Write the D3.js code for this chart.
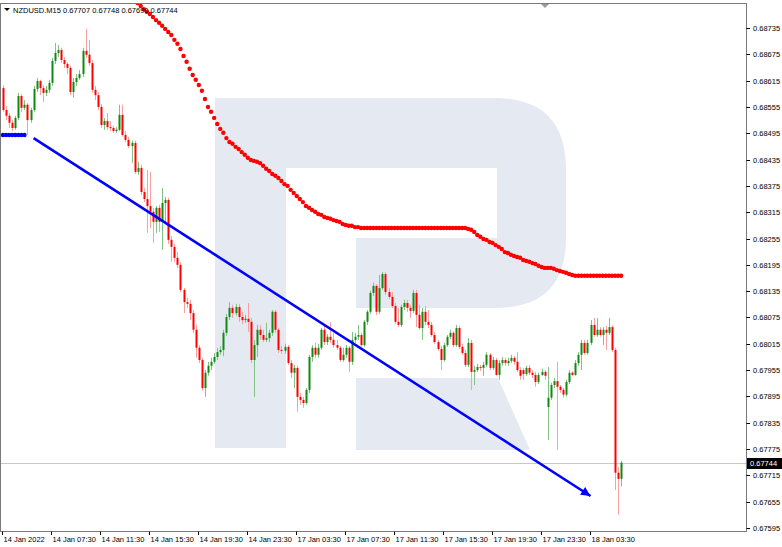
<!DOCTYPE html>
<html><head><meta charset="utf-8">
<script src="https://cdn.jsdelivr.net/npm/d3@7"></script>
<style>body{margin:0;background:#fff}svg{display:block}</style>
</head><body>
<svg id="c" width="782" height="547"></svg>
<script>
// ---------- DATA ----------
const symbol = "NZDUSD.M15";
const headerValues = ["0.67707", "0.67748", "0.67690", "0.67744"];
const lastPrice = 0.67744;

const openP = [0.68598,0.68548,0.68535,0.68519,0.68507,0.68530,0.68580,0.68553,0.68560,0.68525,
0.68548,0.68596,0.68614,0.68598,0.68587,0.68594,0.68610,0.68660,0.68678,0.68685,
0.68662,0.68653,0.68644,0.68589,0.68612,0.68621,0.68630,0.68683,0.68674,0.68655,
0.68594,0.68582,0.68555,0.68514,0.68523,0.68509,0.68507,0.68500,0.68503,0.68537,
0.68491,0.68480,0.68466,0.68473,0.68407,0.68416,0.68361,0.68345,0.68329,0.68316,
0.68293,0.68325,0.68293,0.68336,0.68343,0.68252,0.68236,0.68211,0.68195,0.68138,
0.68110,0.68106,0.68085,0.68047,0.68006,0.67978,0.67914,0.67949,0.67965,0.67974,
0.67985,0.67996,0.68001,0.68040,0.68076,0.68097,0.68085,0.68099,0.68076,0.68069,
0.68072,0.68065,0.67978,0.68012,0.68047,0.68035,0.68024,0.68028,0.68040,0.68088,
0.68047,0.68001,0.67999,0.68008,0.67971,0.67949,0.67960,0.67894,0.67887,0.67880,
0.67910,0.67985,0.68006,0.67990,0.68006,0.68047,0.68019,0.68031,0.68024,0.68012,
0.68006,0.67978,0.67990,0.68006,0.67974,0.68024,0.68031,0.68035,0.68012,0.68065,
0.68088,0.68131,0.68147,0.68088,0.68142,0.68174,0.68133,0.68122,0.68101,0.68065,
0.68058,0.68099,0.68108,0.68097,0.68090,0.68131,0.68081,0.68051,0.68088,0.68065,
0.68058,0.68035,0.68019,0.68003,0.67978,0.68012,0.68031,0.68040,0.68012,0.68051,
0.68008,0.67994,0.67967,0.68017,0.67951,0.67955,0.67962,0.67960,0.67967,0.67990,
0.67960,0.67978,0.67944,0.67971,0.67978,0.67971,0.67976,0.67983,0.67974,0.67955,
0.67955,0.67946,0.67960,0.67949,0.67944,0.67928,0.67944,0.67951,0.67871,0.67892,
0.67921,0.67930,0.67917,0.67910,0.67899,0.67928,0.67949,0.67944,0.67971,0.67990,
0.68017,0.67994,0.68017,0.68058,0.68035,0.68047,0.68035,0.68047,0.68040,0.68053,
0.68001,0.67721,0.67707];

const highP = [0.68605,0.68557,0.68541,0.68525,0.68535,0.68587,0.68585,0.68571,0.68564,0.68553,
0.68603,0.68621,0.68617,0.68605,0.68603,0.68617,0.68667,0.68701,0.68696,0.68690,
0.68669,0.68658,0.68649,0.68621,0.68630,0.68639,0.68690,0.68733,0.68708,0.68662,
0.68603,0.68589,0.68562,0.68530,0.68541,0.68523,0.68512,0.68509,0.68560,0.68560,
0.68500,0.68487,0.68478,0.68478,0.68430,0.68423,0.68370,0.68411,0.68407,0.68325,
0.68329,0.68332,0.68370,0.68350,0.68348,0.68261,0.68243,0.68224,0.68202,0.68142,
0.68120,0.68115,0.68092,0.68058,0.68012,0.67983,0.67955,0.67974,0.67983,0.67994,
0.68006,0.68010,0.68047,0.68083,0.68110,0.68104,0.68106,0.68106,0.68088,0.68081,
0.68108,0.68074,0.68024,0.68058,0.68058,0.68047,0.68063,0.68047,0.68092,0.68092,
0.68051,0.68010,0.68015,0.68012,0.67978,0.67967,0.67965,0.67903,0.67894,0.67914,
0.67990,0.68012,0.68017,0.68015,0.68051,0.68058,0.68037,0.68065,0.68040,0.68024,
0.68010,0.68006,0.68012,0.68010,0.68042,0.68040,0.68058,0.68040,0.68069,0.68092,
0.68136,0.68154,0.68151,0.68172,0.68179,0.68179,0.68142,0.68133,0.68108,0.68097,
0.68104,0.68115,0.68115,0.68104,0.68138,0.68138,0.68104,0.68097,0.68101,0.68092,
0.68065,0.68042,0.68024,0.68010,0.68017,0.68035,0.68047,0.68044,0.68058,0.68056,
0.68015,0.68001,0.68028,0.68024,0.67965,0.67969,0.67967,0.67974,0.67996,0.67994,
0.67985,0.67983,0.67978,0.67985,0.67983,0.67983,0.67990,0.67987,0.67996,0.67962,
0.67960,0.67965,0.67967,0.67955,0.67951,0.67949,0.67958,0.67955,0.67962,0.67926,
0.67937,0.67974,0.67921,0.67914,0.67933,0.67955,0.67953,0.67978,0.67996,0.68024,
0.68024,0.68024,0.68069,0.68074,0.68074,0.68053,0.68053,0.68056,0.68074,0.68058,
0.68006,0.67734,0.67748];

const lowP = [0.68544,0.68525,0.68507,0.68500,0.68503,0.68525,0.68544,0.68548,0.68491,0.68519,
0.68544,0.68589,0.68582,0.68566,0.68580,0.68587,0.68603,0.68653,0.68669,0.68655,
0.68644,0.68630,0.68582,0.68576,0.68603,0.68617,0.68623,0.68667,0.68649,0.68587,
0.68571,0.68548,0.68507,0.68503,0.68503,0.68500,0.68496,0.68496,0.68500,0.68487,
0.68475,0.68462,0.68427,0.68402,0.68400,0.68354,0.68338,0.68268,0.68279,0.68245,
0.68268,0.68270,0.68229,0.68293,0.68243,0.68202,0.68202,0.68188,0.68133,0.68085,
0.68097,0.68069,0.68040,0.67983,0.67971,0.67908,0.67894,0.67942,0.67955,0.67969,
0.67978,0.67990,0.67987,0.68033,0.68069,0.68074,0.68079,0.68065,0.68060,0.68063,
0.68042,0.67971,0.67894,0.67985,0.68024,0.68019,0.68019,0.68019,0.68033,0.68040,
0.67994,0.67992,0.67992,0.67967,0.67937,0.67914,0.67860,0.67876,0.67869,0.67876,
0.67903,0.67974,0.67983,0.67983,0.68001,0.68012,0.68012,0.68017,0.68006,0.68001,
0.67974,0.67974,0.67983,0.67951,0.67967,0.68017,0.68024,0.68008,0.68008,0.68058,
0.68083,0.68124,0.68081,0.68083,0.68138,0.68126,0.68117,0.68097,0.68060,0.68053,
0.68053,0.68092,0.68088,0.68074,0.68085,0.68053,0.68047,0.68024,0.68058,0.68051,
0.68031,0.68015,0.67999,0.67955,0.67974,0.68008,0.68026,0.68008,0.68008,0.68003,
0.67990,0.67962,0.67962,0.67910,0.67921,0.67951,0.67953,0.67942,0.67962,0.67955,
0.67955,0.67942,0.67933,0.67965,0.67965,0.67965,0.67971,0.67967,0.67951,0.67933,
0.67933,0.67942,0.67944,0.67937,0.67917,0.67923,0.67942,0.67933,0.67796,0.67887,
0.67914,0.67773,0.67903,0.67892,0.67894,0.67923,0.67942,0.67942,0.67965,0.67955,
0.67990,0.67990,0.68012,0.68031,0.68031,0.68031,0.68012,0.68001,0.68035,0.67996,
0.67682,0.67625,0.67690];

const closeP = [0.68548,0.68535,0.68519,0.68507,0.68530,0.68580,0.68553,0.68560,0.68525,0.68548,
0.68596,0.68614,0.68598,0.68587,0.68594,0.68610,0.68660,0.68678,0.68685,0.68662,
0.68653,0.68644,0.68589,0.68612,0.68621,0.68630,0.68683,0.68674,0.68655,0.68594,
0.68582,0.68555,0.68514,0.68523,0.68509,0.68507,0.68500,0.68503,0.68537,0.68491,
0.68480,0.68466,0.68473,0.68407,0.68416,0.68361,0.68345,0.68329,0.68316,0.68293,
0.68325,0.68293,0.68336,0.68343,0.68252,0.68236,0.68211,0.68195,0.68138,0.68110,
0.68106,0.68085,0.68047,0.68006,0.67978,0.67914,0.67949,0.67965,0.67974,0.67985,
0.67996,0.68001,0.68040,0.68076,0.68097,0.68085,0.68099,0.68076,0.68069,0.68072,
0.68065,0.67978,0.68012,0.68047,0.68035,0.68024,0.68028,0.68040,0.68088,0.68047,
0.68001,0.67999,0.68008,0.67971,0.67949,0.67960,0.67894,0.67887,0.67880,0.67910,
0.67985,0.68006,0.67990,0.68006,0.68047,0.68019,0.68031,0.68024,0.68012,0.68006,
0.67978,0.67990,0.68006,0.67974,0.68024,0.68031,0.68035,0.68012,0.68065,0.68088,
0.68131,0.68147,0.68088,0.68142,0.68174,0.68133,0.68122,0.68101,0.68065,0.68058,
0.68099,0.68108,0.68097,0.68090,0.68131,0.68081,0.68051,0.68088,0.68065,0.68058,
0.68035,0.68019,0.68003,0.67978,0.68012,0.68031,0.68040,0.68012,0.68051,0.68008,
0.67994,0.67967,0.68017,0.67951,0.67955,0.67962,0.67960,0.67967,0.67990,0.67960,
0.67978,0.67944,0.67971,0.67978,0.67971,0.67976,0.67983,0.67974,0.67955,0.67942,
0.67946,0.67960,0.67949,0.67944,0.67928,0.67944,0.67951,0.67942,0.67892,0.67921,
0.67930,0.67917,0.67910,0.67899,0.67928,0.67949,0.67944,0.67971,0.67990,0.68017,
0.67994,0.68017,0.68058,0.68035,0.68047,0.68035,0.68047,0.68040,0.68053,0.68001,
0.67721,0.67707,0.67744];

// red dotted moving average, starting at bar maRedStart
const maRedStart = 43;
const maRed = [0.68806,0.68792,0.68785,0.68778,0.68772,0.68767,0.68760,0.68753,0.68747,0.68740,
0.68733,0.68726,0.68719,0.68708,0.68699,0.68687,0.68671,0.68658,0.68642,0.68628,
0.68617,0.68605,0.68592,0.68573,0.68555,0.68544,0.68530,0.68516,0.68505,0.68496,
0.68484,0.68475,0.68471,0.68464,0.68459,0.68452,0.68446,0.68439,0.68434,0.68432,
0.68430,0.68427,0.68421,0.68414,0.68409,0.68402,0.68398,0.68393,0.68386,0.68379,
0.68375,0.68366,0.68359,0.68352,0.68345,0.68338,0.68329,0.68325,0.68320,0.68316,
0.68311,0.68309,0.68304,0.68302,0.68300,0.68297,0.68295,0.68293,0.68288,0.68286,
0.68284,0.68284,0.68281,0.68281,
0.68279,0.68279,0.68279,0.68279,0.68279,0.68279,0.68279,0.68279,0.68279,0.68279,
0.68279,0.68279,0.68279,0.68279,0.68279,0.68279,0.68279,0.68279,0.68279,0.68279,
0.68279,0.68279,0.68279,0.68279,0.68279,0.68279,0.68279,0.68279,0.68279,0.68279,
0.68279,0.68279,0.68279,0.68279,0.68279,
0.68277,0.68275,0.68270,0.68263,0.68259,0.68254,0.68252,0.68247,0.68245,0.68240,
0.68236,0.68231,0.68224,0.68222,0.68218,0.68215,0.68213,0.68211,0.68206,0.68204,
0.68202,0.68199,0.68197,0.68193,0.68190,0.68188,0.68188,0.68188,0.68186,0.68183,
0.68181,0.68179,0.68177,0.68174,0.68172,
0.68170,0.68170,0.68170,0.68170,0.68170,0.68170,0.68170,0.68170,0.68170,0.68170,
0.68170,0.68170,0.68170,0.68170,0.68170,0.68170];

// blue dotted moving average (visible part, from bar 0)
const maBlue = [0.68491,0.68491,0.68491,0.68491,0.68491,0.68491,0.68491,0.68491];

// trend arrow (bar index, price)
const trendBars = [10, 192];
const trendPrices = [0.68484, 0.67668];

// axes
const xTickBars = [0,16,32,48,64,80,96,112,128,144,160,176,192];
const xTickLabels = ["14 Jan 2022","14 Jan 07:30","14 Jan 11:30","14 Jan 15:30","14 Jan 19:30",
"14 Jan 23:30","17 Jan 03:30","17 Jan 07:30","17 Jan 11:30","17 Jan 15:30","17 Jan 19:30",
"17 Jan 23:30","18 Jan 03:30"];
const yTickValues = [0.68735,0.68675,0.68615,0.68555,0.68495,0.68435,0.68375,0.68315,0.68255,
0.68195,0.68135,0.68075,0.68015,0.67955,0.67895,0.67835,0.67775,0.67715,0.67655,0.67595];

// ---------- DRAW ----------
const svg = d3.select("#c");
const W = 782, H = 547;
const plot = {l: 1, r: 746, t: 4, b: 531};
const n = closeP.length;
const x = d3.scaleLinear().domain([0, 192]).range([3, 590.5]);
const y = d3.scaleLinear().domain([0.67595, 0.68735]).range([528, 28]);
const font = "'Liberation Sans', Arial, sans-serif";

svg.append("rect").attr("width", W).attr("height", H).attr("fill", "#fff");

const defs = svg.append("defs");
defs.append("clipPath").attr("id", "clip").append("rect")
  .attr("x", plot.l).attr("y", plot.t).attr("width", plot.r - plot.l).attr("height", plot.b - plot.t);
defs.append("marker").attr("id", "arr").attr("viewBox", "0 0 10 10")
  .attr("refX", 10).attr("refY", 5).attr("markerWidth", 5).attr("markerHeight", 3.6)
  .attr("orient", "auto").attr("markerUnits", "strokeWidth")
  .append("path").attr("d", "M0,0 L10,5 L0,10 Z").attr("fill", "#0000ff");

const g = svg.append("g").attr("clip-path", "url(#clip)");

// watermark logo
const wm = g.append("g").attr("fill", "#e4e9f2");
wm.append("path").attr("d",
  "M215,98 H495 Q566,98 566,170 V238 Q566,308 495,308 H356 V448 H215 Z");
wm.append("path").attr("d", "M356,378 H498 L530,450 H356 Z");
g.append("rect").attr("x", 286).attr("y", 168).attr("width", 211).attr("height", 70).attr("fill", "#fff");
g.append("rect").attr("x", 286).attr("y", 238).attr("width", 70).attr("height", 212).attr("fill", "#fff");
g.append("rect").attr("x", 356).attr("y", 308).attr("width", 180).attr("height", 70).attr("fill", "#fff");

// last price line
g.append("line").attr("x1", plot.l).attr("x2", plot.r)
  .attr("y1", Math.round(y(lastPrice)) + 0.5).attr("y2", Math.round(y(lastPrice)) + 0.5)
  .attr("stroke", "#c8c8c8").attr("stroke-width", 1);

// candles
const bars = d3.range(n).map(i => ({i, o: openP[i], h: highP[i], l: lowP[i], c: closeP[i]}));
const cg = g.append("g");
cg.selectAll("line.w").data(bars).join("line")
  .attr("x1", d => Math.round(x(d.i)) + 0.5).attr("x2", d => Math.round(x(d.i)) + 0.5)
  .attr("y1", d => y(d.h)).attr("y2", d => y(d.l))
  .attr("stroke", d => d.c >= d.o ? "#84c184" : "#f7a1a1").attr("stroke-width", 1);
cg.selectAll("rect.b").data(bars).join("rect")
  .attr("x", d => Math.round(x(d.i)) - 0.5).attr("width", 2)
  .attr("y", d => y(Math.max(d.o, d.c)))
  .attr("height", d => Math.max(1, Math.abs(y(d.o) - y(d.c))))
  .attr("fill", d => d.c >= d.o ? "#118a11" : "#ff0000");

// red MA dots
g.append("g").selectAll("circle").data(maRed).join("circle")
  .attr("cx", (d, k) => x(maRedStart + k)).attr("cy", d => y(d)).attr("r", 2.2)
  .attr("fill", "#ff0000");
// blue MA dots
g.append("g").selectAll("circle").data(maBlue).join("circle")
  .attr("cx", (d, k) => x(k)).attr("cy", d => y(d)).attr("r", 2.2)
  .attr("fill", "#0000ff");

// trend arrow
g.append("line")
  .attr("x1", x(trendBars[0])).attr("y1", y(trendPrices[0]))
  .attr("x2", x(trendBars[1])).attr("y2", y(trendPrices[1]))
  .attr("stroke", "#0000ff").attr("stroke-width", 2.6).attr("marker-end", "url(#arr)");

// frame
svg.append("rect").attr("x", plot.l - 0.5).attr("y", plot.t - 0.5)
  .attr("width", plot.r - plot.l + 1).attr("height", plot.b - plot.t + 1)
  .attr("fill", "none").attr("stroke", "#7a7a7a").attr("stroke-width", 1);
// chart shift marker
svg.append("path").attr("d", "M541,4 L549,4 L545,8 Z").attr("fill", "#9a9a9a");

// header
svg.append("path").attr("d", "M4,8 L10,8 L7,11 Z").attr("fill", "#000");
svg.append("text").attr("x", 13).attr("y", 13).attr("font-family", font).attr("font-size", 7.5)
  .attr("fill", "#000").text(symbol + "  " + headerValues.join(" "));

// y axis
const ya = svg.append("g");
yTickValues.forEach(v => {
  const yy = Math.round(y(v)) + 0.5;
  ya.append("line").attr("x1", plot.r + 0.5).attr("x2", plot.r + 4).attr("y1", yy).attr("y2", yy)
    .attr("stroke", "#000");
  ya.append("text").attr("x", 753).attr("y", yy + 2.5).attr("font-family", font)
    .attr("font-size", 7.5).attr("fill", "#000").text(v.toFixed(5));
});
// current price label
const yl = Math.round(y(lastPrice));
svg.append("rect").attr("x", 747).attr("y", yl - 5).attr("width", 35).attr("height", 11).attr("fill", "#000");
svg.append("text").attr("x", 750).attr("y", yl + 3).attr("font-family", font).attr("font-size", 7.5)
  .attr("fill", "#fff").text(lastPrice.toFixed(5));

// x axis
const xa = svg.append("g");
xTickBars.forEach((b, k) => {
  const xx = Math.round(x(b)) - 0.5;
  xa.append("line").attr("x1", xx).attr("x2", xx).attr("y1", plot.b + 0.5).attr("y2", plot.b + 4)
    .attr("stroke", "#000");
  xa.append("text").attr("x", xx + 1).attr("y", 542).attr("font-family", font)
    .attr("font-size", 7.5).attr("fill", "#000").text(xTickLabels[k]);
});
</script>
</body></html>
